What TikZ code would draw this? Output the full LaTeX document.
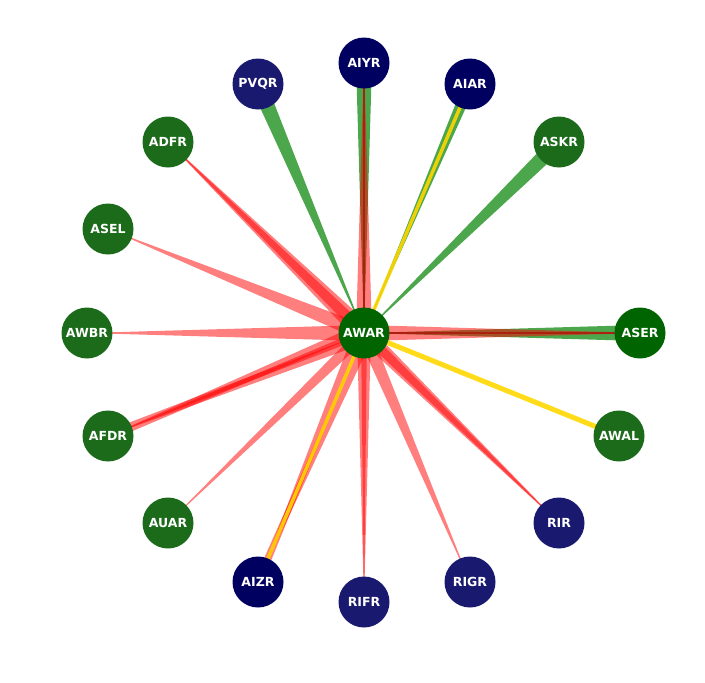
\documentclass[tikz,border=0pt]{standalone}
\usepackage{fontspec}
\setmainfont{DejaVu Sans}[BoldFont={DejaVu Sans Bold}]
\usetikzlibrary{calc}
\definecolor{dgreen}{HTML}{006400}
\definecolor{mgreen}{HTML}{1B6B1B}
\definecolor{navyc}{HTML}{000060}
\definecolor{midblue}{HTML}{191970}
\definecolor{egreen}{HTML}{008000}
\definecolor{gold}{HTML}{FFD700}
\newcommand{\taper}[4][]{%
  \fill[#1] ($(#2.center)!#4!90:(#3.center)$) -- ($(#2.center)!#4!-90:(#3.center)$) -- (#3.center) -- cycle;}
\tikzset{
  nd/.style={circle, minimum size=51pt, inner sep=0pt, text=white, font=\fontsize{12.5}{14}\selectfont\bfseries},
  gn/.style={nd, fill=mgreen},
  dg/.style={nd, fill=dgreen},
  nv/.style={nd, fill=navyc},
  mb/.style={nd, fill=midblue},
  redw/.style={fill=red, fill opacity=0.5},
  grnw/.style={fill=egreen, fill opacity=0.7},
  yline/.style={draw=gold, line width=3.5pt, draw opacity=0.9},
  rline/.style={draw=red!70!black, line width=1.2pt, draw opacity=0.6}
}
\begin{document}
\begin{tikzpicture}[x=1pt,y=-1pt]
\useasboundingbox (0,0) rectangle (705,683);
\coordinate (AWAR) at (364,333);
\coordinate (AIYR) at (364,63);
\coordinate (AIAR) at (470,84);
\coordinate (ASKR) at (559,142);
\coordinate (ASER) at (640,333);
\coordinate (AWAL) at (619,436);
\coordinate (RIR) at (559,523);
\coordinate (RIGR) at (470,582);
\coordinate (RIFR) at (364,602);
\coordinate (AIZR) at (258,582);
\coordinate (AUAR) at (168,523);
\coordinate (AFDR) at (108,436);
\coordinate (AWBR) at (87,333);
\coordinate (ASEL) at (108,229);
\coordinate (ADFR) at (168,142);
\coordinate (PVQR) at (258,84);
% edges
\taper[grnw]{AIYR}{AWAR}{8pt}
\taper[redw]{AWAR}{AIYR}{8pt}
\draw[rline] (AWAR) -- (AIYR);
\taper[grnw]{AIAR}{AWAR}{6pt}
\draw[yline] (AWAR) -- (AIAR);
\taper[grnw]{ASKR}{AWAR}{8pt}
\taper[grnw]{ASER}{AWAR}{8pt}
\taper[redw]{AWAR}{ASER}{8pt}
\draw[rline] (AWAR) -- (ASER);
\draw[yline, line width=5pt] (AWAR) -- (AWAL);
\taper[redw]{AWAR}{RIR}{8pt}
\taper[redw]{AWAR}{RIR}{5pt}
\taper[redw]{AWAR}{RIGR}{7pt}
\taper[redw]{AWAR}{RIFR}{7pt}
\taper[redw]{AWAR}{RIFR}{3pt}
\taper[redw]{AWAR}{AIZR}{10pt}
\taper[redw]{AIZR}{AWAR}{4pt}
\draw[yline] (AWAR) -- (AIZR);
\taper[redw]{AWAR}{AUAR}{6pt}
\taper[redw]{AWAR}{AFDR}{10pt}
\taper[redw]{AFDR}{AWAR}{5pt}
\taper[redw]{AWAR}{AFDR}{4pt}
\taper[redw]{AWAR}{AWBR}{8pt}
\taper[redw]{AWAR}{ASEL}{8pt}
\taper[redw]{AWAR}{ADFR}{10pt}
\taper[redw]{AWAR}{ADFR}{6pt}
\taper[grnw]{PVQR}{AWAR}{8pt}
% nodes
\node[dg] (nAWAR) at (AWAR) {AWAR};
\node[nv] (nAIYR) at (AIYR) {AIYR};
\node[nv] (nAIAR) at (AIAR) {AIAR};
\node[gn] (nASKR) at (ASKR) {ASKR};
\node[dg] (nASER) at (ASER) {ASER};
\node[gn] (nAWAL) at (AWAL) {AWAL};
\node[mb] (nRIR) at (RIR) {RIR};
\node[mb] (nRIGR) at (RIGR) {RIGR};
\node[mb] (nRIFR) at (RIFR) {RIFR};
\node[nv] (nAIZR) at (AIZR) {AIZR};
\node[gn] (nAUAR) at (AUAR) {AUAR};
\node[gn] (nAFDR) at (AFDR) {AFDR};
\node[gn] (nAWBR) at (AWBR) {AWBR};
\node[gn] (nASEL) at (ASEL) {ASEL};
\node[gn] (nADFR) at (ADFR) {ADFR};
\node[mb] (nPVQR) at (PVQR) {PVQR};
\end{tikzpicture}
\end{document}
